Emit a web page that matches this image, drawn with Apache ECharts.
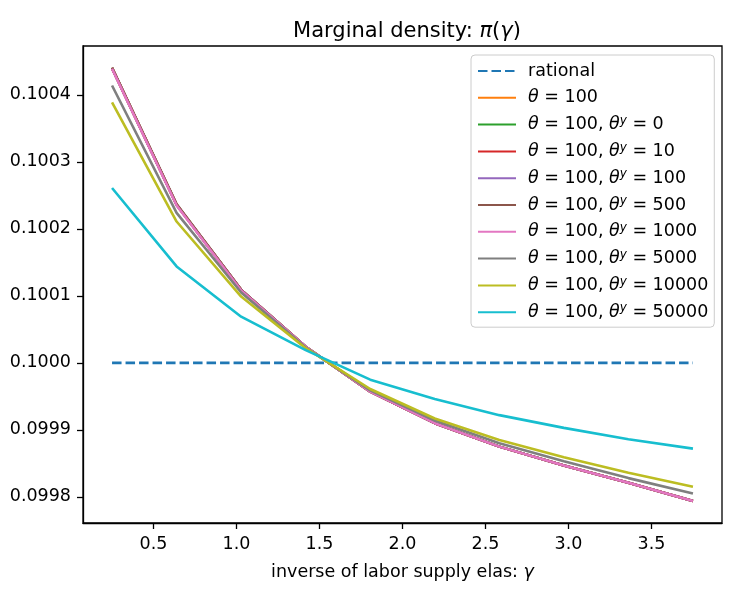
<!DOCTYPE html>
<html>
<head>
<meta charset="utf-8">
<script src="https://cdn.jsdelivr.net/npm/echarts@6/dist/echarts.min.js"></script>
<style>
html,body{margin:0;padding:0;background:#fff;}
#chart{width:729px;height:590px;}
</style>
</head>
<body>
<div id="chart"></div>
<script>
// ---- data ----
const gammaValues = [0.25, 0.6389, 1.0278, 1.4167, 1.8056, 2.1944, 2.5833, 2.9722, 3.3611, 3.75];
const xTicks = [0.5, 1.0, 1.5, 2.0, 2.5, 3.0, 3.5];
const yTicks = [0.0998, 0.0999, 0.1000, 0.1001, 0.1002, 0.1003, 0.1004];

const rational   = [0.1, 0.1, 0.1, 0.1, 0.1, 0.1, 0.1, 0.1, 0.1, 0.1];
const theta100   = [0.100440, 0.100236, 0.100109, 0.100024, 0.099957, 0.099910, 0.099875, 0.099847, 0.099821, 0.099794];
const thetaY0    = [0.100440, 0.100236, 0.100109, 0.100024, 0.099957, 0.099910, 0.099875, 0.099847, 0.099821, 0.099794];
const thetaY10   = [0.100440, 0.100236, 0.100109, 0.100024, 0.099957, 0.099910, 0.099875, 0.099847, 0.099821, 0.099794];
const thetaY100  = [0.100440, 0.100236, 0.100109, 0.100024, 0.099957, 0.099910, 0.099875, 0.099847, 0.099821, 0.099794];
const thetaY500  = [0.100441, 0.100237, 0.100109, 0.100024, 0.099957, 0.099910, 0.099875, 0.099847, 0.099821, 0.099794];
const thetaY1000 = [0.100439, 0.100235, 0.100108, 0.100024, 0.099957, 0.099910, 0.099875, 0.099847, 0.099821, 0.099794];
const thetaY5000 = [0.100414, 0.100224, 0.100105, 0.100023, 0.099959, 0.099914, 0.099880, 0.099853, 0.099828, 0.099805];
const thetaY10000= [0.100389, 0.100211, 0.100099, 0.100022, 0.099961, 0.099917, 0.099885, 0.099859, 0.099836, 0.099815];
const thetaY50000= [0.100261, 0.100144, 0.100069, 0.100019, 0.099975, 0.099946, 0.099922, 0.099903, 0.099886, 0.099872];

const seriesNames = ['rational', 'θ=100', 'θ=100, θy=0', 'θ=100, θy=10', 'θ=100, θy=100', 'θ=100, θy=500',
  'θ=100, θy=1000', 'θ=100, θy=5000', 'θ=100, θy=10000', 'θ=100, θy=50000'];
const legendThetaY = [null, null, '0', '10', '100', '500', '1000', '5000', '10000', '50000'];
const seriesData = [rational, theta100, thetaY0, thetaY10, thetaY100, thetaY500, thetaY1000, thetaY5000, thetaY10000, thetaY50000];
const colors = ['#1f77b4', '#ff7f0e', '#2ca02c', '#d62728', '#9467bd', '#8c564b', '#e377c2', '#7f7f7f', '#bcbd22', '#17becf'];

const FONT = 'DejaVu Sans';
const FS = 17.5;
const chart = echarts.init(document.getElementById('chart'), null, {renderer: 'canvas'});

const LW = 2.6;
const series = seriesNames.map((name, i) => ({
  name: name,
  type: 'line',
  data: gammaValues.map((x, j) => [x, seriesData[i][j]]),
  symbol: 'none',
  showSymbol: false,
  smooth: false,
  animation: false,
  lineStyle: {color: colors[i], width: LW, type: i === 0 ? [9.5, 4] : 'solid'},
  itemStyle: {color: colors[i]},
  z: 2 + i
}));

const richBase = {fontFamily: FONT, fontSize: FS, color: '#000', lineHeight: 20};
const option = {
  backgroundColor: '#fff',
  animation: false,
  title: {
    text: 'Marginal density: {i|π}({i|γ})',
    left: 402, textAlign: 'center', top: 16,
    textStyle: {
      fontFamily: FONT, fontSize: 21, fontWeight: 'normal', color: '#000',
      rich: {
        i: {fontFamily: FONT, fontSize: 21, fontStyle: 'italic', color: '#000'}
      }
    }
  },
  grid: {left: 83, right: 7, top: 46, bottom: 67, show: true, borderColor: '#000', borderWidth: 1.3, backgroundColor: 'transparent'},
  xAxis: {
    type: 'value', min: 0.075, max: 3.925,
    name: 'inverse of labor supply elas: {i|γ}', nameLocation: 'middle', nameGap: 40,
    nameTextStyle: {fontFamily: FONT, fontSize: FS, color: '#000',
      rich: {i: {fontFamily: FONT, fontSize: FS, fontStyle: 'italic', color: '#000'}}},
    axisLine: {show: true, onZero: false, lineStyle: {color: '#000', width: 1.3}},
    axisTick: {show: true, length: 6, lineStyle: {color: '#000', width: 1.3}, customValues: xTicks},
    axisLabel: {show: true, margin: 12, fontFamily: FONT, fontSize: FS, color: '#000', customValues: xTicks,
      formatter: v => v.toFixed(1)},
    splitLine: {show: false}
  },
  yAxis: {
    type: 'value', min: 0.099761, max: 0.100473, scale: true,
    axisLine: {show: true, onZero: false, lineStyle: {color: '#000', width: 1.3}},
    axisTick: {show: true, length: 6, lineStyle: {color: '#000', width: 1.3}, customValues: yTicks},
    axisLabel: {show: true, margin: 12, fontFamily: FONT, fontSize: FS, color: '#000', customValues: yTicks,
      formatter: v => v.toFixed(4)},
    splitLine: {show: false}
  },
  legend: {
    orient: 'vertical', left: 471, top: 55,
    padding: [6, 6, 5, 6],
    itemWidth: 38, itemHeight: 14, itemGap: 6.8,
    backgroundColor: 'rgba(255,255,255,0.85)', borderColor: '#cccccc', borderWidth: 1, borderRadius: 4,
    itemStyle: {opacity: 0},
    data: seriesNames,
    formatter: function (name) {
      const i = seriesNames.indexOf(name);
      if (i === 0) return 'rational';
      if (legendThetaY[i] === null) return '{i|θ} = 100';
      return '{i|θ} = 100, {i|θ}{s|y} = ' + legendThetaY[i];
    },
    textStyle: {
      fontFamily: FONT, fontSize: FS, color: '#000', lineHeight: 20, padding: [0, 0, 0, 7],
      rich: {
        i: Object.assign({}, richBase, {fontStyle: 'italic'}),
        s: {fontFamily: FONT, fontSize: 12, fontStyle: 'italic', color: '#000', lineHeight: 20, verticalAlign: 'top', padding: [0, 0, 6, 0]}
      }
    }
  },
  series: series
};
chart.setOption(option);
</script>
</body>
</html>
